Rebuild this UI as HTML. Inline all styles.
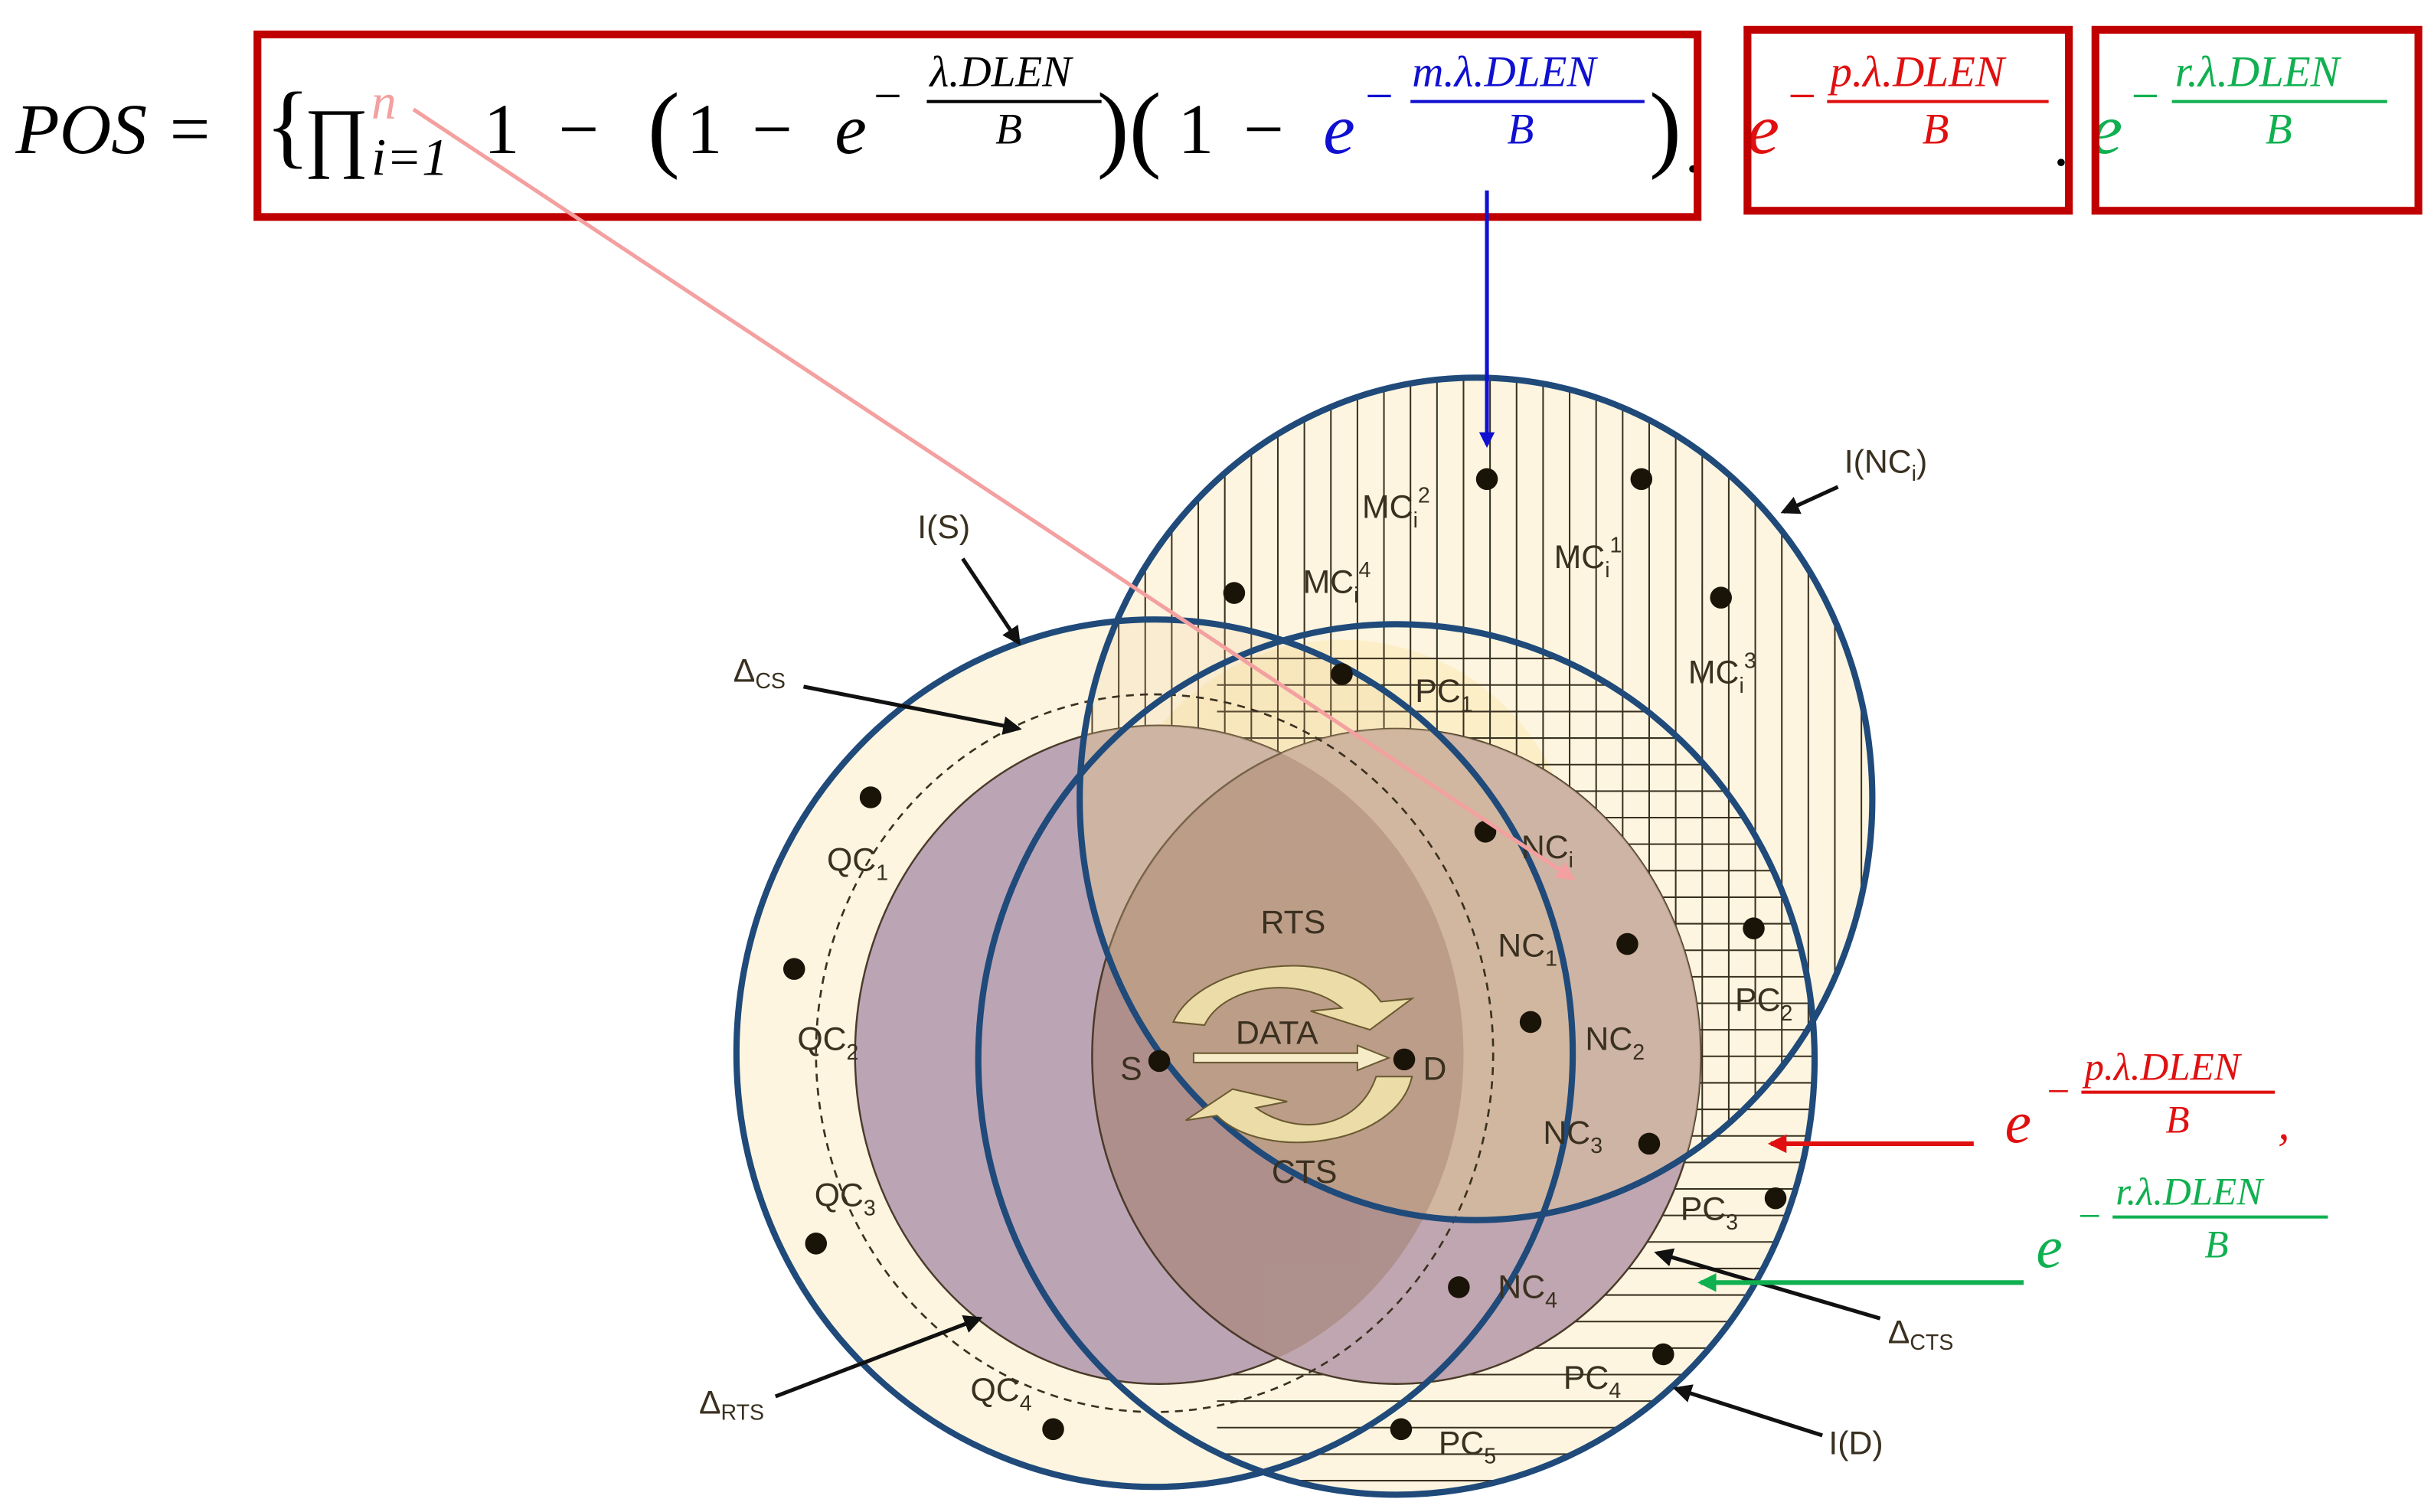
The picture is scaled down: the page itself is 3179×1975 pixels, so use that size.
<!DOCTYPE html>
<html><head><meta charset="utf-8"><style>
html,body{margin:0;padding:0;background:#fff}
svg{display:block}
.eq{font-family:"Liberation Serif","DejaVu Serif",serif;font-style:italic}
.lb{font-family:"Liberation Sans","DejaVu Sans",sans-serif;fill:#3a3020;font-size:21px}
.sb{font-size:14px}
</style></head><body>
<svg width="3179" height="1975" viewBox="0 0 1560 969" xmlns="http://www.w3.org/2000/svg">
<defs>
<clipPath id="cN"><ellipse cx="946" cy="512" rx="254" ry="270"/></clipPath>
<clipPath id="cD"><ellipse cx="895" cy="679" rx="268" ry="279"/></clipPath>
<clipPath id="cS"><ellipse cx="743" cy="676" rx="195" ry="211"/></clipPath>
<marker id="ab" markerWidth="10" markerHeight="10" refX="8" refY="5" orient="auto" markerUnits="userSpaceOnUse"><path d="M0,0 L10,5 L0,10 Z" fill="#1010d0"/></marker>
<marker id="ar" markerWidth="12" markerHeight="12" refX="10" refY="6" orient="auto" markerUnits="userSpaceOnUse"><path d="M0,0 L12,6 L0,12 Z" fill="#e01010"/></marker>
<marker id="ag" markerWidth="12" markerHeight="12" refX="10" refY="6" orient="auto" markerUnits="userSpaceOnUse"><path d="M0,0 L12,6 L0,12 Z" fill="#10b050"/></marker>
<marker id="ap" markerWidth="12" markerHeight="12" refX="10" refY="6" orient="auto" markerUnits="userSpaceOnUse"><path d="M0,0 L12,6 L0,12 Z" fill="#f4a0a0"/></marker>
<marker id="ak" markerWidth="12" markerHeight="12" refX="10" refY="6" orient="auto" markerUnits="userSpaceOnUse"><path d="M0,0 L12,6 L0,12 Z" fill="#111"/></marker>
</defs>

<!-- equation -->
<g class="eq" font-size="46">
<text x="10" y="98">POS =</text>
<text x="170" y="100" font-style="normal" font-size="60">{</text>
<text x="195" y="104" font-style="normal" font-size="50">∏</text>
<text x="238" y="76" fill="#f4a0a0" font-size="32">n</text>
<text x="238" y="112" font-size="34">i=1</text>
<text x="310" y="98" font-style="normal">1</text>
<text x="358" y="98" font-style="normal">−</text>
<text x="415" y="102" font-style="normal" font-size="62">(</text>
<text x="440" y="98" font-style="normal">1</text>
<text x="482" y="98" font-style="normal">−</text>
<text x="535" y="98">e</text>
<text x="560" y="72" font-size="32" font-style="normal">−</text>
<text x="596" y="55" font-size="28">λ.DLEN</text>
<rect x="594" y="64" width="112" height="2" fill="#000"/>
<text x="638" y="92" font-size="28">B</text>
<text x="703" y="102" font-style="normal" font-size="62">)(</text>
<text x="755" y="98" font-style="normal">1</text>
<text x="797" y="98" font-style="normal">−</text>
<text x="848" y="98" fill="#1010d0">e</text>
<text x="875" y="72" font-size="32" font-style="normal" fill="#1010d0">−</text>
<text x="905" y="55" font-size="28" fill="#1010d0">m.λ.DLEN</text>
<rect x="904" y="64" width="150" height="2" fill="#1010d0"/>
<text x="966" y="92" font-size="28" fill="#1010d0">B</text>
<text x="1057" y="102" font-style="normal" font-size="62">)</text>
<text x="1080" y="110" font-style="normal" font-size="40">.</text>
<text x="1120" y="98" fill="#e01010">e</text>
<text x="1146" y="72" font-size="32" font-style="normal" fill="#e01010">−</text>
<text x="1173" y="55" font-size="28" fill="#e01010">p.λ.DLEN</text>
<rect x="1171" y="64" width="142" height="2" fill="#e01010"/>
<text x="1232" y="92" font-size="28" fill="#e01010">B</text>
<text x="1316" y="106" font-style="normal" font-size="40">.</text>
<text x="1340" y="98" fill="#10b050">e</text>
<text x="1366" y="72" font-size="32" font-style="normal" fill="#10b050">−</text>
<text x="1394" y="55" font-size="28" fill="#10b050">r.λ.DLEN</text>
<rect x="1392" y="64" width="138" height="2" fill="#10b050"/>
<text x="1452" y="92" font-size="28" fill="#10b050">B</text>
</g>
<g fill="none" stroke="#c00000" stroke-width="5">
<rect x="165" y="22" width="923" height="117"/>
<rect x="1120" y="19" width="206" height="116"/>
<rect x="1343" y="19" width="207" height="116"/>
</g>

<!-- outer fills -->
<ellipse cx="740" cy="675" rx="268" ry="278" fill="#fdf5df"/>
<ellipse cx="946" cy="512" rx="254" ry="270" fill="#fdf5df"/>
<ellipse cx="895" cy="679" rx="268" ry="279" fill="#fdf5df"/>
<circle cx="860" cy="560" r="150" fill="#fbe9b8" opacity="0.6"/>

<!-- hatching -->
<g stroke="#3a3020" stroke-width="1" clip-path="url(#cN)">
<path d="M700,240V790M717,240V790M734,240V790M751,240V790M768,240V790M785,240V790M802,240V790M819,240V790M836,240V790M853,240V790M870,240V790M887,240V790M904,240V790M921,240V790M938,240V790M955,240V790M972,240V790M989,240V790M1006,240V790M1023,240V790M1040,240V790M1057,240V790M1074,240V790M1091,240V790M1108,240V790M1125,240V790M1142,240V790M1159,240V790M1176,240V790M1193,240V790"/>
</g>
<g stroke="#3a3020" stroke-width="1" clip-path="url(#cD)">
<path d="M780,422H1180M780,439H1180M780,456H1180M780,473H1180M780,490H1180M780,507H1180M780,524H1180M780,541H1180M780,558H1180M780,575H1180M780,592H1180M780,609H1180M780,626H1180M780,643H1180M780,660H1180M780,677H1180M780,694H1180M780,711H1180M780,728H1180M780,745H1180M780,762H1180M780,779H1180M780,796H1180M780,813H1180M780,830H1180M780,847H1180M780,864H1180M780,881H1180M780,898H1180M780,915H1180M780,932H1180M780,949H1180"/>
</g>

<!-- inner purple circles -->
<ellipse cx="743" cy="676" rx="195" ry="211" fill="#bba5b5" stroke="#4a3a2a" stroke-width="1.2"/>
<ellipse cx="895" cy="677" rx="195" ry="210" fill="#c0a6b0" stroke="#4a3a2a" stroke-width="1.2"/>
<g clip-path="url(#cN)"><ellipse cx="895" cy="677" rx="195" ry="210" fill="#d8bf9a" opacity="0.55"/><ellipse cx="743" cy="676" rx="195" ry="211" fill="#d8bf9a" opacity="0.45"/></g>
<g clip-path="url(#cS)"><ellipse cx="895" cy="677" rx="195" ry="210" fill="#a88880" opacity="0.75" stroke="#4a3a2a" stroke-width="1.2"/></g>
<g clip-path="url(#cN)"><ellipse cx="740" cy="675" rx="268" ry="278" fill="#e8c890" opacity="0.18"/></g>

<!-- dashed -->
<ellipse cx="740" cy="675" rx="217" ry="230" fill="none" stroke="#3a3020" stroke-width="1.3" stroke-dasharray="5,4"/>

<!-- outlines -->
<g fill="none" stroke="#1f4a7a" stroke-width="4">
<ellipse cx="740" cy="675" rx="268" ry="278"/>
<ellipse cx="946" cy="512" rx="254" ry="270"/>
<ellipse cx="895" cy="679" rx="268" ry="279"/>
</g>

<!-- cycle arrows -->
<g fill="#ecdca8" stroke="#6a5a30" stroke-width="1">
<path d="M752,655 C770,615 860,605 885,642 L905,640 L878,660 L840,648 L860,646 C835,625 785,630 772,657 Z"/>
<path d="M905,690 C895,735 810,745 780,715 L760,718 L790,698 L825,706 L805,710 C830,728 870,725 882,690 Z"/>
</g>
<path d="M765,675 H870 V670 L890,678 L870,686 V681 H765 Z" fill="#f6ecc8" stroke="#6a5a30" stroke-width="1"/>

<!-- dots -->
<g fill="#1a1408">
<circle cx="953" cy="307" r="7"/><circle cx="1052" cy="307" r="7"/><circle cx="791" cy="380" r="7"/><circle cx="1103" cy="383" r="7"/>
<circle cx="860" cy="432" r="7"/><circle cx="558" cy="511" r="7"/><circle cx="509" cy="621" r="7"/><circle cx="523" cy="797" r="7"/>
<circle cx="675" cy="916" r="7"/><circle cx="898" cy="916" r="7"/><circle cx="1066" cy="868" r="7"/><circle cx="1138" cy="768" r="7"/>
<circle cx="1057" cy="733" r="7"/><circle cx="1124" cy="595" r="7"/><circle cx="1043" cy="605" r="7"/><circle cx="981" cy="655" r="7"/>
<circle cx="952" cy="533" r="7"/><circle cx="935" cy="825" r="7"/><circle cx="743" cy="680" r="7"/><circle cx="900" cy="679" r="7"/>
</g>

<!-- labels -->
<g class="lb">
<text x="873" y="332">MC<tspan class="sb" dy="6">i</tspan><tspan class="sb" dy="-16">2</tspan></text>
<text x="996" y="364">MC<tspan class="sb" dy="6">i</tspan><tspan class="sb" dy="-16">1</tspan></text>
<text x="835" y="380">MC<tspan class="sb" dy="6">i</tspan><tspan class="sb" dy="-16">4</tspan></text>
<text x="1082" y="438">MC<tspan class="sb" dy="6">i</tspan><tspan class="sb" dy="-16">3</tspan></text>
<text x="907" y="450">PC<tspan class="sb" dy="6">1</tspan></text>
<text x="975" y="550">NC<tspan class="sb" dy="6">i</tspan></text>
<text x="960" y="613">NC<tspan class="sb" dy="6">1</tspan></text>
<text x="1016" y="673">NC<tspan class="sb" dy="6">2</tspan></text>
<text x="989" y="733">NC<tspan class="sb" dy="6">3</tspan></text>
<text x="960" y="832">NC<tspan class="sb" dy="6">4</tspan></text>
<text x="1112" y="648">PC<tspan class="sb" dy="6">2</tspan></text>
<text x="1077" y="782">PC<tspan class="sb" dy="6">3</tspan></text>
<text x="1002" y="890">PC<tspan class="sb" dy="6">4</tspan></text>
<text x="922" y="932">PC<tspan class="sb" dy="6">5</tspan></text>
<text x="530" y="558">QC<tspan class="sb" dy="6">1</tspan></text>
<text x="511" y="673">QC<tspan class="sb" dy="6">2</tspan></text>
<text x="522" y="773">QC<tspan class="sb" dy="6">3</tspan></text>
<text x="622" y="898">QC<tspan class="sb" dy="6">4</tspan></text>
<text x="808" y="598">RTS</text>
<text x="792" y="669">DATA</text>
<text x="815" y="758">CTS</text>
<text x="718" y="692">S</text>
<text x="912" y="692">D</text>
<text x="588" y="345">I(S)</text>
<text x="470" y="437">Δ<tspan class="sb" dy="4">CS</tspan></text>
<text x="448" y="906">Δ<tspan class="sb" dy="4">RTS</tspan></text>
<text x="1182" y="303">I(NC<tspan class="sb" dy="5">i</tspan><tspan dy="-5">)</tspan></text>
<text x="1210" y="861">Δ<tspan class="sb" dy="4">CTS</tspan></text>
<text x="1172" y="932">I(D)</text>
</g>

<!-- black arrows -->
<g stroke="#111" stroke-width="2.5" marker-end="url(#ak)">
<line x1="617" y1="358" x2="653" y2="412"/>
<line x1="515" y1="440" x2="653" y2="467"/>
<line x1="497" y1="895" x2="628" y2="845"/>
<line x1="1178" y1="312" x2="1143" y2="328"/>
<line x1="1205" y1="845" x2="1062" y2="803"/>
<line x1="1168" y1="920" x2="1074" y2="890"/>
</g>

<!-- colored arrows -->
<line x1="265" y1="70" x2="1008" y2="563" stroke="#f4a0a0" stroke-width="2.5" marker-end="url(#ap)"/>
<line x1="953" y1="122" x2="953" y2="285" stroke="#1010d0" stroke-width="2.5" marker-end="url(#ab)"/>
<line x1="1265" y1="733" x2="1135" y2="733" stroke="#e01010" stroke-width="3" marker-end="url(#ar)"/>
<line x1="1297" y1="822" x2="1090" y2="822" stroke="#10b050" stroke-width="3" marker-end="url(#ag)"/>

<g class="eq">
<text x="1285" y="732" font-size="38" fill="#e01010">e</text>
<text x="1312" y="708" font-size="26" font-style="normal" fill="#e01010">−</text>
<text x="1336" y="692" font-size="25" fill="#e01010">p.λ.DLEN</text>
<rect x="1334" y="699" width="124" height="2" fill="#e01010"/>
<text x="1388" y="726" font-size="25" fill="#e01010">B</text>
<text x="1460" y="730" font-size="30" fill="#e01010">,</text>
<text x="1305" y="812" font-size="38" fill="#10b050">e</text>
<text x="1332" y="788" font-size="26" font-style="normal" fill="#10b050">−</text>
<text x="1356" y="772" font-size="25" fill="#10b050">r.λ.DLEN</text>
<rect x="1354" y="779" width="138" height="2" fill="#10b050"/>
<text x="1413" y="806" font-size="25" fill="#10b050">B</text>
</g>
</svg>
</body></html>
